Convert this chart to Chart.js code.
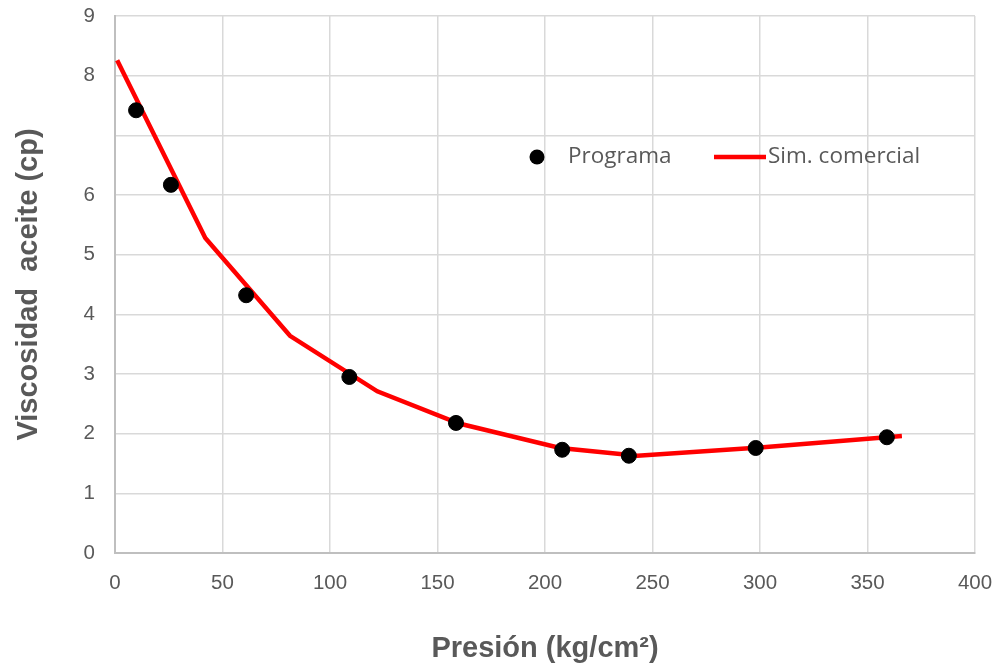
<!DOCTYPE html>
<html>
<head>
<meta charset="utf-8">
<script src="https://cdn.jsdelivr.net/npm/chart.js@4/dist/chart.umd.min.js"></script>
<style>
  html, body { margin: 0; padding: 0; background: #fff; }
  #wrap { width: 1000px; height: 666px; }
</style>
</head>
<body>
<div id="wrap"><canvas id="grafica" width="1000" height="666"></canvas></div>
<script>
// datos
const presionPrograma = [9.8, 26, 61, 109, 158.6, 208, 239, 298, 359];
const viscPrograma = [7.42, 6.17, 4.32, 2.95, 2.18, 1.73, 1.63, 1.76, 1.94];

const presionSim = [1, 42, 81.4, 122, 160, 207, 243, 300, 366];
const viscSim = [8.26, 5.28, 3.64, 2.71, 2.17, 1.76, 1.63, 1.77, 1.96];

const etiquetasY = ['0', '1', '2', '3', '4', '5', '6', '', '8', '9']; // el 7 no sale en el original

const gris = '#595959';

// leyenda dibujada dentro del area de la grafica
const leyendaInterna = {
  id: 'leyendaInterna',
  afterDraw(chart) {
    const ctx = chart.ctx;
    const y = 157;
    ctx.save();
    ctx.fillStyle = '#000';
    ctx.beginPath();
    ctx.arc(537, y, 7.5, 0, Math.PI * 2);
    ctx.fill();
    ctx.strokeStyle = '#ff0000';
    ctx.lineWidth = 4.5;
    ctx.beginPath();
    ctx.moveTo(714, y);
    ctx.lineTo(766, y);
    ctx.stroke();
    ctx.fillStyle = gris;
    ctx.font = '22.5px "Open Sans", "Noto Sans", sans-serif';
    ctx.textBaseline = 'middle';
    ctx.fillText('Programa', 568, y);
    ctx.fillText('Sim. comercial', 768, y);
    ctx.restore();
  }
};

const ctx = document.getElementById('grafica').getContext('2d');
const myChart = new Chart(ctx, {
  type: 'scatter',
  data: {
    datasets: [
      {
        label: 'Programa',
        data: presionPrograma.map((x, i) => ({ x: x, y: viscPrograma[i] })),
        backgroundColor: '#000',
        borderColor: '#000',
        pointRadius: 7.5,
        pointHoverRadius: 7.5,
        order: 0
      },
      {
        label: 'Sim. comercial',
        data: presionSim.map((x, i) => ({ x: x, y: viscSim[i] })),
        showLine: true,
        borderColor: '#ff0000',
        borderWidth: 4.5,
        pointRadius: 0,
        tension: 0,
        order: 1
      }
    ]
  },
  options: {
    responsive: false,
    animation: false,
    layout: { padding: { left: 12, right: 25, top: 16, bottom: 0 } },
    scales: {
      x: {
        type: 'linear',
        min: 0,
        max: 400,
        ticks: {
          stepSize: 50,
          color: gris,
          padding: 18,
          maxRotation: 0,
          font: { family: '"Liberation Sans", sans-serif', size: 20.5 }
        },
        grid: { color: '#d9d9d9', lineWidth: 1.5, drawTicks: false },
        border: { color: '#bfbfbf', width: 2 },
        title: {
          display: true,
          text: 'Presión (kg/cm²)',
          color: gris,
          padding: { top: 28, bottom: 0 },
          font: { family: '"Liberation Sans", Arial, sans-serif', size: 29, weight: 'bold' }
        },
        afterFit(scale) {
          scale.height = 113;
          scale.paddingLeft = 0;
          scale.paddingRight = 0;
        }
      },
      y: {
        min: 0,
        max: 9,
        ticks: {
          stepSize: 1,
          color: gris,
          padding: 20,
          font: { family: '"Liberation Sans", sans-serif', size: 20.5 },
          callback: (v) => etiquetasY[v]
        },
        grid: { color: '#d9d9d9', lineWidth: 1.5, drawTicks: false },
        border: { color: '#bfbfbf', width: 2 },
        title: {
          display: true,
          text: 'Viscosidad  aceite (cp)',
          color: gris,
          padding: { top: 0, bottom: 18 },
          font: { family: '"Liberation Sans", Arial, sans-serif', size: 29, weight: 'bold' }
        },
        afterFit(scale) {
          scale.width = 103;
          scale.paddingTop = 0;
          scale.paddingBottom = 0;
        }
      }
    },
    plugins: {
      legend: { display: false },
      tooltip: { enabled: false }
    }
  },
  plugins: [leyendaInterna]
});
</script>
</body>
</html>
